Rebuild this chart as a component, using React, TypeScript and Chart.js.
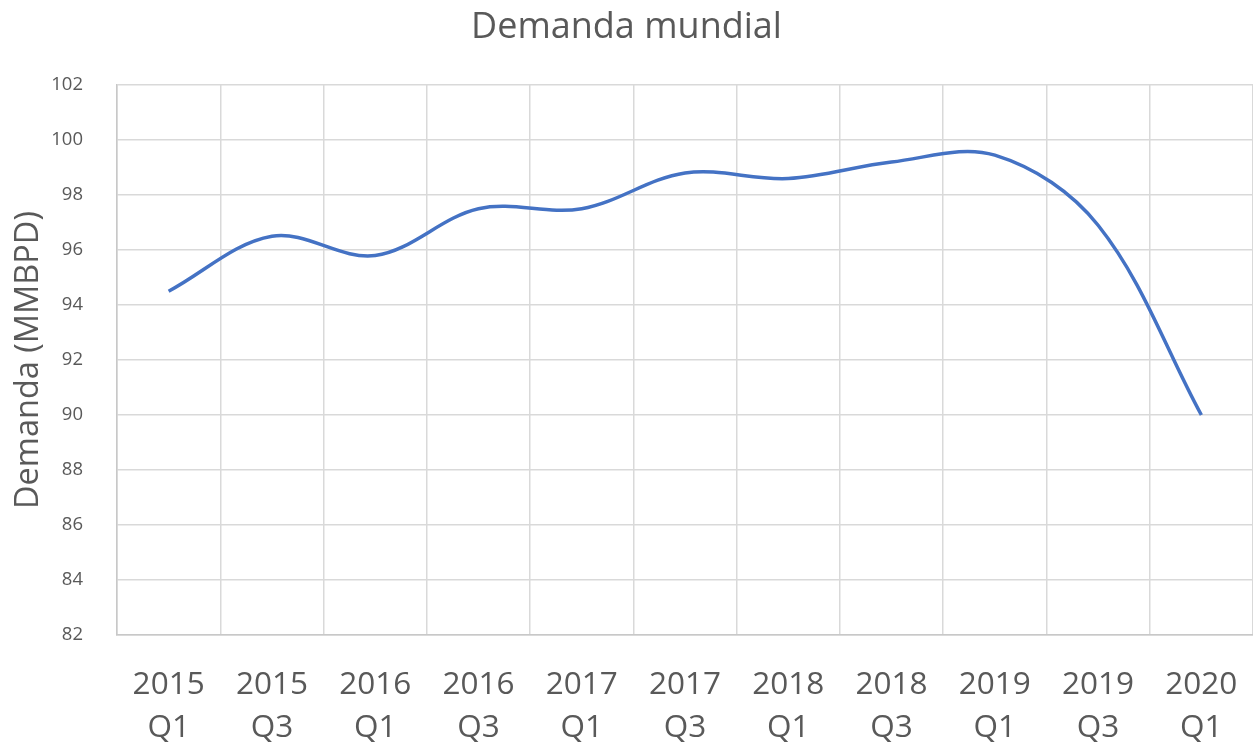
import React, { useEffect, useRef } from "react";
import { Chart, registerables } from "chart.js";

Chart.register(...registerables);

const categories: string[][] = [
  ["2015", "Q1"], ["2015", "Q3"], ["2016", "Q1"], ["2016", "Q3"],
  ["2017", "Q1"], ["2017", "Q3"], ["2018", "Q1"], ["2018", "Q3"],
  ["2019", "Q1"], ["2019", "Q3"], ["2020", "Q1"],
];
const demanda: number[] = [94.5, 96.5, 95.8, 97.5, 97.5, 98.8, 98.6, 99.2, 99.45, 96.9, 90.0];
const yMin = 82;
const yMax = 102;
const yStep = 2;

const TEXT = "#595959";
const GRID = "#d9d9d9";
const FONT = "'Open Sans', Lato, sans-serif";

export default function App() {
  const ref = useRef<HTMLCanvasElement | null>(null);
  useEffect(() => {
    document.body.style.margin = "0";
    const canvas = ref.current;
    if (!canvas) return;
    const chart = new Chart(canvas, {
      type: "line",
      data: {
        labels: categories,
        datasets: [
          {
            label: "Demanda",
            data: demanda,
            borderColor: "#4472C4",
            borderWidth: 3.5,
            pointRadius: 0,
            tension: 0.35,
            fill: false,
          },
        ],
      },
      options: {
        animation: false,
        responsive: false,
        layout: { padding: { left: 0, right: 0, top: 0, bottom: 0 } },
        plugins: {
          legend: { display: false },
          tooltip: { enabled: false },
          title: {
            display: true,
            text: "Demanda mundial",
            color: TEXT,
            font: { family: FONT, size: 36, weight: "normal", lineHeight: 1.2 },
            padding: { top: 6, bottom: 35.8 },
          },
        },
        scales: {
          x: {
            type: "category",
            offset: true,
            grid: { display: true, offset: true, color: GRID, lineWidth: 1.5, drawTicks: false },
            border: { display: true, color: "#c8c8c8", width: 1.5 },
            ticks: {
              color: TEXT,
              font: { family: FONT, size: 31.5, lineHeight: 1.36 },
              padding: 28.5,
              maxRotation: 0,
              autoSkip: false,
            },
            afterFit: (scale: any) => {
              scale.height = 109;
              scale.paddingLeft = 0;
              scale.paddingRight = 0;
            },
          },
          y: {
            min: yMin,
            max: yMax,
            grid: { color: GRID, lineWidth: 1.5, drawTicks: false },
            border: { display: true, color: "#c8c8c8", width: 1.5 },
            ticks: {
              stepSize: yStep,
              color: TEXT,
              font: { family: FONT, size: 18.5 },
              padding: 34,
            },
            title: {
              display: true,
              text: "Demanda (MMBPD)",
              color: TEXT,
              font: { family: FONT, size: 32.5, lineHeight: 1.2 },
              padding: { top: 9, bottom: 4 },
            },
            afterFit: (scale: any) => {
              scale.width = 117;
            },
          },
        },
      },
    });
    return () => chart.destroy();
  }, []);
  return <canvas ref={ref} width={1253} height={744} style={{ display: "block" }} />;
}
